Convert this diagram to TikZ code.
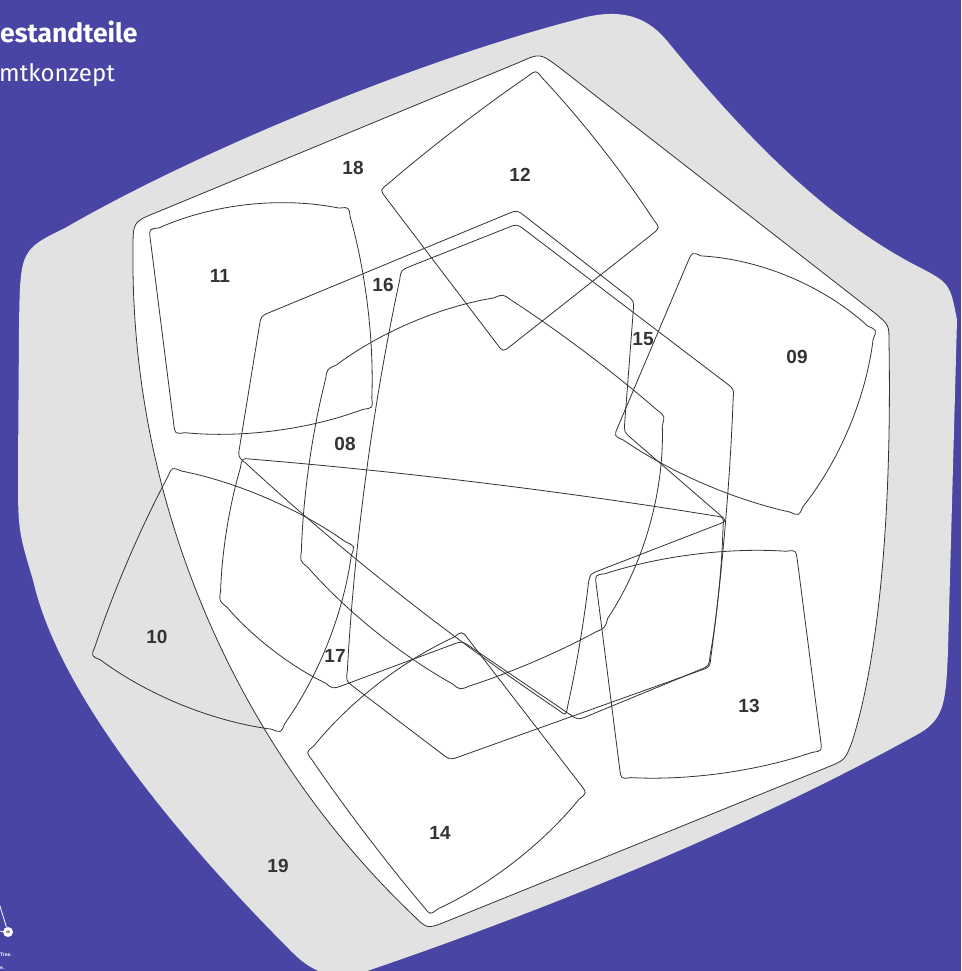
\documentclass[tikz,border=0pt]{standalone}
\usepackage{fontspec}
\usetikzlibrary{calc}
\newfontfamily\titlefont{Fira Sans}
\newfontfamily\labfont{Liberation Sans}
\definecolor{bgpurple}{RGB}{72,69,165}
\definecolor{blobgrey}{RGB}{226,226,226}
\definecolor{inkgrey}{RGB}{51,51,51}
\def\rr{10pt}
\newcommand\shapeside[4]{.. controls ($(#1)!0.33!(#2)!#4!90:(#2)$) and ($(#1)!0.67!(#2)!#4!90:(#2)$) .. ($(#2)!\rr!(#1)$) .. controls (#2) .. ($(#2)!\rr!(#3)$)}
\tikzset{
  outl/.style={draw=inkgrey, line width=0.8pt, line join=round},
  lab/.style={font=\labfont\bfseries\fontsize{19}{19}\selectfont, text=inkgrey, inner sep=0pt},
  titletext/.style={font=\titlefont\fontsize{24}{24}\selectfont, text=white, inner sep=0pt, anchor=base west}
}
\begin{document}
\begin{tikzpicture}[x=1pt,y=-1pt]
\useasboundingbox (0,0) rectangle (961,971);
\clip (0,0) rectangle (961,971);
\fill[bgpurple] (0,0) rectangle (961,971);
% grey blob (19)
\fill[blobgrey] (65,228) .. controls (200,150) and (420,60) .. (575,20) .. controls (625,5) and (650,20) .. (668,42) .. controls (740,130) and (820,215) .. (915,265) .. controls (950,283) .. (957,320) -- (948,650) .. controls (946,700) and (945,718) .. (920,733) .. controls (760,822) and (560,905) .. (370,970) .. controls (340,982) and (315,975) .. (293,953) .. controls (190,850) and (60,700) .. (33,580) .. controls (18,530) .. (18,470) -- (19,330) .. controls (20,250) .. (65,228) -- cycle;
% white pentagon (18)
\filldraw[fill=white, outl] (155,213) -- (520,62) .. controls (540,53) .. (560,68) -- (876,314) .. controls (889,325) .. (889,342) .. controls (892,520) and (878,660) .. (852,742) .. controls (845,760) .. (828,767) -- (445,922) .. controls (427,929) .. (413,915) .. controls (250,760) and (130,520) .. (133,250) .. controls (133,222) .. (155,213) -- cycle;
% coordinates
\coordinate (s11a) at (149,229); \coordinate (s11b) at (349,207); \coordinate (s11c) at (373,408); \coordinate (s11d) at (175,434);
\coordinate (s12a) at (380,190); \coordinate (s12b) at (536,70); \coordinate (s12c) at (660,228); \coordinate (s12d) at (503,352);
\coordinate (s09a) at (692,252); \coordinate (s09b) at (877,330); \coordinate (s09c) at (799,516); \coordinate (s09d) at (614,436);
\coordinate (s13a) at (595,575); \coordinate (s13b) at (796,550); \coordinate (s13c) at (822,751); \coordinate (s13d) at (621,779);
\coordinate (s14a) at (306,752); \coordinate (s14b) at (462,631); \coordinate (s14c) at (587,793); \coordinate (s14d) at (430,915);
\coordinate (s10a) at (172,467); \coordinate (s10b) at (355,546); \coordinate (s10c) at (281,733); \coordinate (s10d) at (91,656);
\coordinate (s08a) at (503,294); \coordinate (s08b) at (665,416); \coordinate (s08c) at (605,628); \coordinate (s08d) at (460,690); \coordinate (s08e) at (300,561); \coordinate (s08f) at (327,369);
\coordinate (s15a) at (517,224); \coordinate (s15b) at (734,389); \coordinate (s15c) at (710,667); \coordinate (s15d) at (450,760); \coordinate (s15e) at (346,681); \coordinate (s15f) at (401,270);
\coordinate (s16a) at (517,210); \coordinate (s16b) at (634,301); \coordinate (s16c) at (624,432); \coordinate (s16d) at (727,521); \coordinate (s16e) at (590,574); \coordinate (s16f) at (566,716); \coordinate (s16g) at (238,457); \coordinate (s16h) at (261,316);
\coordinate (s17a) at (242,458); \coordinate (s17b) at (724,517); \coordinate (s17c) at (709,666); \coordinate (s17d) at (578,720); \coordinate (s17e) at (462,641); \coordinate (s17f) at (333,689); \coordinate (s17g) at (219,601);
% shapes
\draw[outl] ($(s11a)!\rr!(s11b)$) \shapeside{s11a}{s11b}{s11c}{18pt} \shapeside{s11b}{s11c}{s11d}{9pt} \shapeside{s11c}{s11d}{s11a}{13pt} \shapeside{s11d}{s11a}{s11b}{0pt} -- cycle;
\draw[outl] ($(s12a)!\rr!(s12b)$) \shapeside{s12a}{s12b}{s12c}{3pt} \shapeside{s12b}{s12c}{s12d}{5pt} \shapeside{s12c}{s12d}{s12a}{0pt} \shapeside{s12d}{s12a}{s12b}{0pt} -- cycle;
\draw[outl] ($(s09a)!\rr!(s09b)$) \shapeside{s09a}{s09b}{s09c}{20pt} \shapeside{s09b}{s09c}{s09d}{16pt} \shapeside{s09c}{s09d}{s09a}{11pt} \shapeside{s09d}{s09a}{s09b}{0pt} -- cycle;
\draw[outl] ($(s13a)!\rr!(s13b)$) \shapeside{s13a}{s13b}{s13c}{11pt} \shapeside{s13b}{s13c}{s13d}{0pt} \shapeside{s13c}{s13d}{s13a}{11pt} \shapeside{s13d}{s13a}{s13b}{0pt} -- cycle;
\draw[outl] ($(s14a)!\rr!(s14b)$) \shapeside{s14a}{s14b}{s14c}{13pt} \shapeside{s14b}{s14c}{s14d}{0pt} \shapeside{s14c}{s14d}{s14a}{13pt} \shapeside{s14d}{s14a}{s14b}{3pt} -- cycle;
\draw[outl] ($(s10a)!\rr!(s10b)$) \shapeside{s10a}{s10b}{s10c}{12pt} \shapeside{s10b}{s10c}{s10d}{14pt} \shapeside{s10c}{s10d}{s10a}{15pt} \shapeside{s10d}{s10a}{s10b}{5pt} -- cycle;
\draw[outl] ($(s08a)!\rr!(s08b)$) \shapeside{s08a}{s08b}{s08c}{4pt} \shapeside{s08b}{s08c}{s08d}{20pt} \shapeside{s08c}{s08d}{s08e}{4pt} \shapeside{s08d}{s08e}{s08f}{10pt} \shapeside{s08e}{s08f}{s08a}{6pt} \shapeside{s08f}{s08a}{s08b}{13pt} -- cycle;
\draw[outl] ($(s15a)!\rr!(s15b)$) \shapeside{s15a}{s15b}{s15c}{0pt} \shapeside{s15b}{s15c}{s15d}{4pt} \shapeside{s15c}{s15d}{s15e}{0pt} \shapeside{s15d}{s15e}{s15f}{0pt} \shapeside{s15e}{s15f}{s15a}{10pt} \shapeside{s15f}{s15a}{s15b}{0pt} -- cycle;
\draw[outl] ($(s16a)!\rr!(s16b)$) \shapeside{s16a}{s16b}{s16c}{0pt} \shapeside{s16b}{s16c}{s16d}{0pt} \shapeside{s16c}{s16d}{s16e}{0pt} \shapeside{s16d}{s16e}{s16f}{0pt} \shapeside{s16e}{s16f}{s16g}{2pt} \shapeside{s16f}{s16g}{s16h}{10pt} \shapeside{s16g}{s16h}{s16a}{0pt} \shapeside{s16h}{s16a}{s16b}{0pt} -- cycle;
\draw[outl] ($(s17a)!\rr!(s17b)$) \shapeside{s17a}{s17b}{s17c}{6pt} \shapeside{s17b}{s17c}{s17d}{3pt} \shapeside{s17c}{s17d}{s17e}{0pt} \shapeside{s17d}{s17e}{s17f}{0pt} \shapeside{s17e}{s17f}{s17g}{0pt} \shapeside{s17f}{s17g}{s17a}{8pt} \shapeside{s17g}{s17a}{s17b}{5pt} -- cycle;
% labels
\node[lab] (l18) at (353,168) {18};
\node[lab] (l12) at (520,175) {12};
\node[lab] (l11) at (220,276) {11};
\node[lab] (l16) at (383,285) {16};
\node[lab] (l15) at (643,339) {15};
\node[lab] (l09) at (797,357) {09};
\node[lab] (l08) at (345,444) {08};
\node[lab] (l10) at (157,637) {10};
\node[lab] (l17) at (335,656) {17};
\node[lab] (l13) at (749,706) {13};
\node[lab] (l14) at (440,833) {14};
\node[lab] (l19) at (278,866) {19};
% title
\node[titletext, font=\titlefont\bfseries\fontsize{26.5}{26.5}\selectfont] (t1) at (0,43) {estandteile};
\node[titletext] (t2) at (-1,82) {mtkonzept};
% bottom-left marker
\node[circle, fill=white, inner sep=0pt, minimum size=10pt, font=\labfont\bfseries\fontsize{3.5}{3.5}\selectfont, text=inkgrey] (m08) at (8,932) {08};
\coordinate (m08a) at (-1,903);
\coordinate (m08b) at (-2,931);
\draw[white, line width=0.8pt] (m08a) -- (m08);
\draw[white, line width=0.8pt] (m08b) -- (m08);
\node[anchor=base west, inner sep=0pt, text=white, font=\labfont\bfseries\fontsize{5}{5}\selectfont] (tr1) at (0,956) {Tree.};
\node[anchor=base west, inner sep=0pt, text=white, font=\labfont\bfseries\fontsize{5}{5}\selectfont] (tr2) at (0,969) {e.};
\end{tikzpicture}
\end{document}
